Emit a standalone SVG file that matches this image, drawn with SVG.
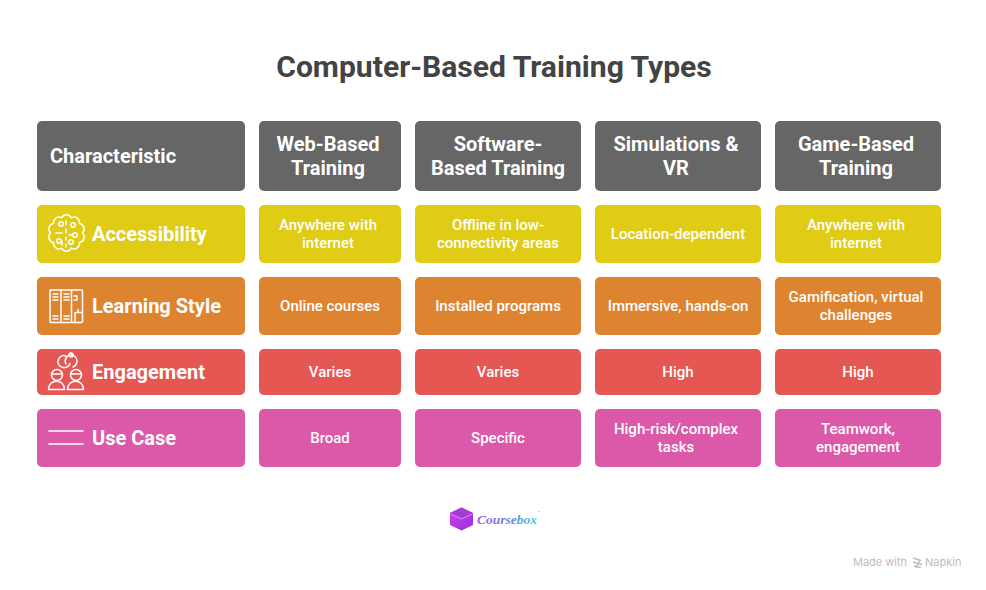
<svg xmlns="http://www.w3.org/2000/svg" width="986" height="590" viewBox="0 0 986 590">
<defs>
<linearGradient id="cbText" x1="0" x2="1" y1="0" y2="0"><stop offset="0" stop-color="#a45ae0"/><stop offset="0.6" stop-color="#6a8ee8"/><stop offset="1" stop-color="#40d0e0"/></linearGradient>
<linearGradient id="cbBox" x1="0" x2="1" y1="0" y2="1"><stop offset="0" stop-color="#d03ee8"/><stop offset="1" stop-color="#9a30e0"/></linearGradient>
</defs>
<style>
text{font-family:Roboto,"Liberation Sans",sans-serif;text-anchor:middle}
.title{font-size:30.100px;font-weight:700;fill:#434343}
.hd{font-size:20px;font-weight:700;fill:#fff}
.rh{font-size:20px;font-weight:700;fill:#fff;text-anchor:start}
.c{font-size:15px;font-weight:500;fill:#fff}
.g{fill:#666666}.y{fill:#e0cb15}.o{fill:#de8431}.r{fill:#e55753}.p{fill:#dc58a8}
.i{fill:none;stroke:#fff;stroke-width:1.500;stroke-linecap:round;stroke-linejoin:round}
</style>
<rect width="986" height="590" fill="#fff"/>
<text id="title" class="title" x="494" y="77">Computer-Based Training Types</text>
<g id="connectors"></g>

<g id="h0"><rect class="g" x="37" y="121" width="208" height="70" rx="5"/><text class="rh" x="50" y="163">Characteristic</text></g>
<g id="h1"><rect class="g" x="259" y="121" width="142" height="70" rx="5"/><text class="hd" x="328" y="151">Web-Based</text><text class="hd" x="328" y="175">Training</text></g>
<g id="h2"><rect class="g" x="415" y="121" width="166" height="70" rx="5"/><text class="hd" x="498" y="151">Software-</text><text class="hd" x="498" y="175">Based Training</text></g>
<g id="h3"><rect class="g" x="595" y="121" width="166" height="70" rx="5"/><text class="hd" x="676" y="151">Simulations &amp;</text><text class="hd" x="676" y="175">VR</text></g>
<g id="h4"><rect class="g" x="775" y="121" width="166" height="70" rx="5"/><text class="hd" x="856" y="151">Game-Based</text><text class="hd" x="856" y="175">Training</text></g>

<g id="r1"><rect class="y" x="37" y="205" width="208" height="58" rx="5"/>
<g class="i"><path d="M82.500 233A5.500 5.500 0 0 1 79.400 242.400A5.500 5.500 0 0 1 71.400 248.200A5.500 5.500 0 0 1 61.600 248.200A5.500 5.500 0 0 1 53.600 242.400A5.500 5.500 0 0 1 50.500 233A5.500 5.500 0 0 1 53.600 223.600A5.500 5.500 0 0 1 61.600 217.800A5.500 5.500 0 0 1 71.400 217.800A5.500 5.500 0 0 1 79.400 223.600A5.500 5.500 0 0 1 82.500 233z"/><circle cx="61" cy="224" r="2.200"/><circle cx="73" cy="225" r="2.200"/><circle cx="75" cy="235" r="2.200"/><circle cx="59" cy="241" r="2.200"/><circle cx="71" cy="242" r="2.200"/><path d="M66 221v4M66 229v4M66 237v3M66 244v3M72 235h-3M56 233h6M62 241v4"/></g>
<text class="rh" x="92" y="241">Accessibility</text></g>
<g id="c11"><rect class="y" x="259" y="205" width="142" height="58" rx="5"/><text class="c" x="328" y="230">Anywhere with</text><text class="c" x="328" y="248">internet</text></g>
<g id="c12"><rect class="y" x="415" y="205" width="166" height="58" rx="5"/><text class="c" x="498" y="230">Offline in low-</text><text class="c" x="498" y="248">connectivity areas</text></g>
<g id="c13"><rect class="y" x="595" y="205" width="166" height="58" rx="5"/><text class="c" x="678" y="239">Location-dependent</text></g>
<g id="c14"><rect class="y" x="775" y="205" width="166" height="58" rx="5"/><text class="c" x="856" y="230">Anywhere with</text><text class="c" x="856" y="248">internet</text></g>

<g id="r2"><rect class="o" x="37" y="277" width="208" height="58" rx="5"/>
<g class="i"><rect x="50" y="290" width="32.500" height="32.500" rx="1"/><path d="M61 290v32.500M71.500 290v32.500M53 294h5M53 297h5M53 300h5M53 316h5M53 319h5M64 294h5M64 297h5M64 300h5M64 316h5M64 319h5M74 296h3v4h-3M75 322.500v-10h3v-3M78 312.500h4"/></g>
<text class="rh" x="92" y="313">Learning Style</text></g>
<g id="c21"><rect class="o" x="259" y="277" width="142" height="58" rx="5"/><text class="c" x="330" y="311">Online courses</text></g>
<g id="c22"><rect class="o" x="415" y="277" width="166" height="58" rx="5"/><text class="c" x="498" y="311">Installed programs</text></g>
<g id="c23"><rect class="o" x="595" y="277" width="166" height="58" rx="5"/><text class="c" x="678" y="311">Immersive, hands-on</text></g>
<g id="c24"><rect class="o" x="775" y="277" width="166" height="58" rx="5"/><text class="c" x="856" y="302">Gamification, virtual</text><text class="c" x="856" y="320">challenges</text></g>

<g id="r3"><rect class="r" x="37" y="349" width="208" height="46" rx="5"/>
<g class="i"><path d="M66 356a6 6 0 1 0-1 11.500 6 6 0 0 0 5-4M66 364a6 6 0 0 1 5-9 6 6 0 0 1 6 6c0 3-2 5-4 6"/><circle cx="71" cy="355" r="2"/><circle cx="57" cy="375" r="5.500"/><circle cx="76" cy="375" r="5.500"/><path d="M48.500 389.500c0-11 16-11 16 0zM67.500 389.500c0-11 16-11 16 0zM52 374h10M71 374h10"/></g>
<text class="rh" x="92" y="379">Engagement</text></g>
<g id="c31"><rect class="r" x="259" y="349" width="142" height="46" rx="5"/><text class="c" x="330" y="377">Varies</text></g>
<g id="c32"><rect class="r" x="415" y="349" width="166" height="46" rx="5"/><text class="c" x="498" y="377">Varies</text></g>
<g id="c33"><rect class="r" x="595" y="349" width="166" height="46" rx="5"/><text class="c" x="678" y="377">High</text></g>
<g id="c34"><rect class="r" x="775" y="349" width="166" height="46" rx="5"/><text class="c" x="858" y="377">High</text></g>

<g id="r4"><rect class="p" x="37" y="409" width="208" height="58" rx="5"/>
<g class="i"><path d="M49 431h34M49 444h34"/></g>
<text class="rh" x="92" y="445">Use Case</text></g>
<g id="c41"><rect class="p" x="259" y="409" width="142" height="58" rx="5"/><text class="c" x="330" y="443">Broad</text></g>
<g id="c42"><rect class="p" x="415" y="409" width="166" height="58" rx="5"/><text class="c" x="498" y="443">Specific</text></g>
<g id="c43"><rect class="p" x="595" y="409" width="166" height="58" rx="5"/><text class="c" x="676" y="434">High-risk/complex</text><text class="c" x="676" y="452">tasks</text></g>
<g id="c44"><rect class="p" x="775" y="409" width="166" height="58" rx="5"/><text class="c" x="858" y="434">Teamwork,</text><text class="c" x="858" y="452">engagement</text></g>

<g id="logo"><path d="M450 513l11.500-5.500 11.500 5.500v12l-11.500 5.500-11.500-5.500z" fill="url(#cbBox)"/><path d="M450 513l11.500-5.500 11.500 5.500-11.500 5.500z" fill="#a93ad8"/><path d="M450.500 514l11 5 11-5" fill="none" stroke="#e8b8f4" stroke-width="0.700"/>
<text x="477" y="524" style="text-anchor:start;font-family:'Liberation Serif',serif;font-style:italic;font-weight:700;font-size:13.500px" fill="url(#cbText)">Coursebox</text><text x="537.500" y="514" style="text-anchor:start;font-size:4px" fill="#40d0e0">™</text></g>

<g id="watermark"><text x="853" y="566" style="text-anchor:start;font-size:11px;font-family:Inter,sans-serif" fill="#bdbdbd">Made with</text><path d="M913 558l8 2.500M913 562l9 2.500M914 566l7 1.500M916 568l4-8" fill="none" stroke="#bdbdbd" stroke-width="1.400"/><text x="925" y="566" style="text-anchor:start;font-size:11px;font-family:Inter,sans-serif" fill="#bdbdbd">Napkin</text></g>
</svg>
